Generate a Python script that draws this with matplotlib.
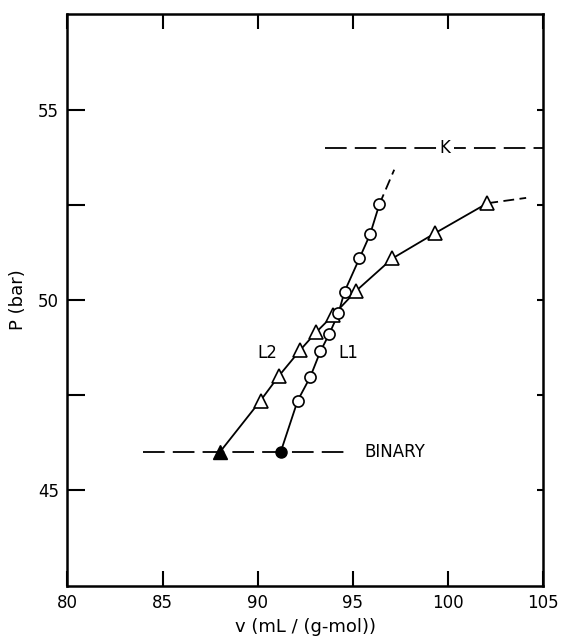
import matplotlib
matplotlib.use("Agg")
import matplotlib.pyplot as plt

# L2 branch (triangles), L1 branch (circles)
l2_v = [88.0, 90.15, 91.1, 92.24, 93.08, 93.98, 95.17, 97.07, 99.3, 102.06]
l2_p = [46.0, 47.36, 48.0, 48.69, 49.16, 49.61, 50.24, 51.09, 51.75, 52.54]
l2_ext_v = [102.06, 104.1]
l2_ext_p = [52.54, 52.68]

l1_v = [91.2, 92.1, 92.76, 93.29, 93.77, 94.24, 94.56, 95.34, 95.9, 96.39]
l1_p = [46.0, 47.36, 47.98, 48.65, 49.12, 49.65, 50.22, 51.09, 51.72, 52.51]
l1_ext_v = [96.39, 97.17]
l1_ext_p = [52.51, 53.42]

binary_v = [84.0, 94.7]
binary_p = [46.0, 46.0]
k_v = [93.55, 105.0]
k_p = [54.0, 54.0]

fig = plt.figure(figsize=(5.62, 6.4), dpi=100)
ax = fig.add_axes([0.1198, 0.0848, 0.8469, 0.8929])

dash = (0, (12, 4.5))
ax.plot(binary_v, binary_p, color="black", lw=1.3, linestyle=dash)
ax.plot(k_v, k_p, color="black", lw=1.3, linestyle=dash)

# solid branches
ax.plot(l2_v, l2_p, color="black", lw=1.3)
ax.plot(l1_v, l1_p, color="black", lw=1.3)
ax.plot(l2_ext_v, l2_ext_p, color="black", lw=1.3, linestyle=(0, (6, 3)))
ax.plot(l1_ext_v, l1_ext_p, color="black", lw=1.3, linestyle=(0, (6, 3)))

# open markers
ax.plot(l2_v[1:], l2_p[1:], linestyle="none", marker="^", ms=10,
        mfc="white", mec="black", mew=1.2)
ax.plot(l1_v[1:], l1_p[1:], linestyle="none", marker="o", ms=8,
        mfc="white", mec="black", mew=1.2)
# filled binary points
ax.plot(l2_v[0], l2_p[0], marker="^", ms=10, color="black")
ax.plot(l1_v[0], l1_p[0], marker="o", ms=8, color="black")

ax.text(95.6, 46.0, "BINARY", fontsize=12, va="center", ha="left",
        bbox=dict(facecolor="white", edgecolor="none", pad=1))
ax.text(99.85, 54.0, "K", fontsize=12, va="center", ha="center",
        bbox=dict(facecolor="white", edgecolor="none", pad=2))
ax.text(90.5, 48.6, "L2", fontsize=12, va="center", ha="center")
ax.text(94.75, 48.6, "L1", fontsize=12, va="center", ha="center")

ax.set_xlim(80, 105)
ax.set_ylim(42.5, 57.5)
ax.set_xticks([80, 85, 90, 95, 100, 105])
ax.set_yticks([45, 47.5, 50, 52.5, 55])
ax.set_yticklabels(["45", "", "50", "", "55"])
ax.tick_params(axis="both", direction="in", labelsize=12, width=1.5)
ax.tick_params(axis="x", length=11, top=True, pad=6)
ax.tick_params(axis="y", length=13, right=True, pad=6)
# short ticks on the right side
for t in ax.yaxis.get_major_ticks():
    t.tick2line.set_markersize(4)

for s in ax.spines.values():
    s.set_linewidth(1.8)

ax.set_xlabel("v (mL / (g-mol))", fontsize=13, labelpad=4)
ax.set_ylabel("P (bar)", fontsize=13, labelpad=8)

fig.savefig("out.png", dpi=100)
